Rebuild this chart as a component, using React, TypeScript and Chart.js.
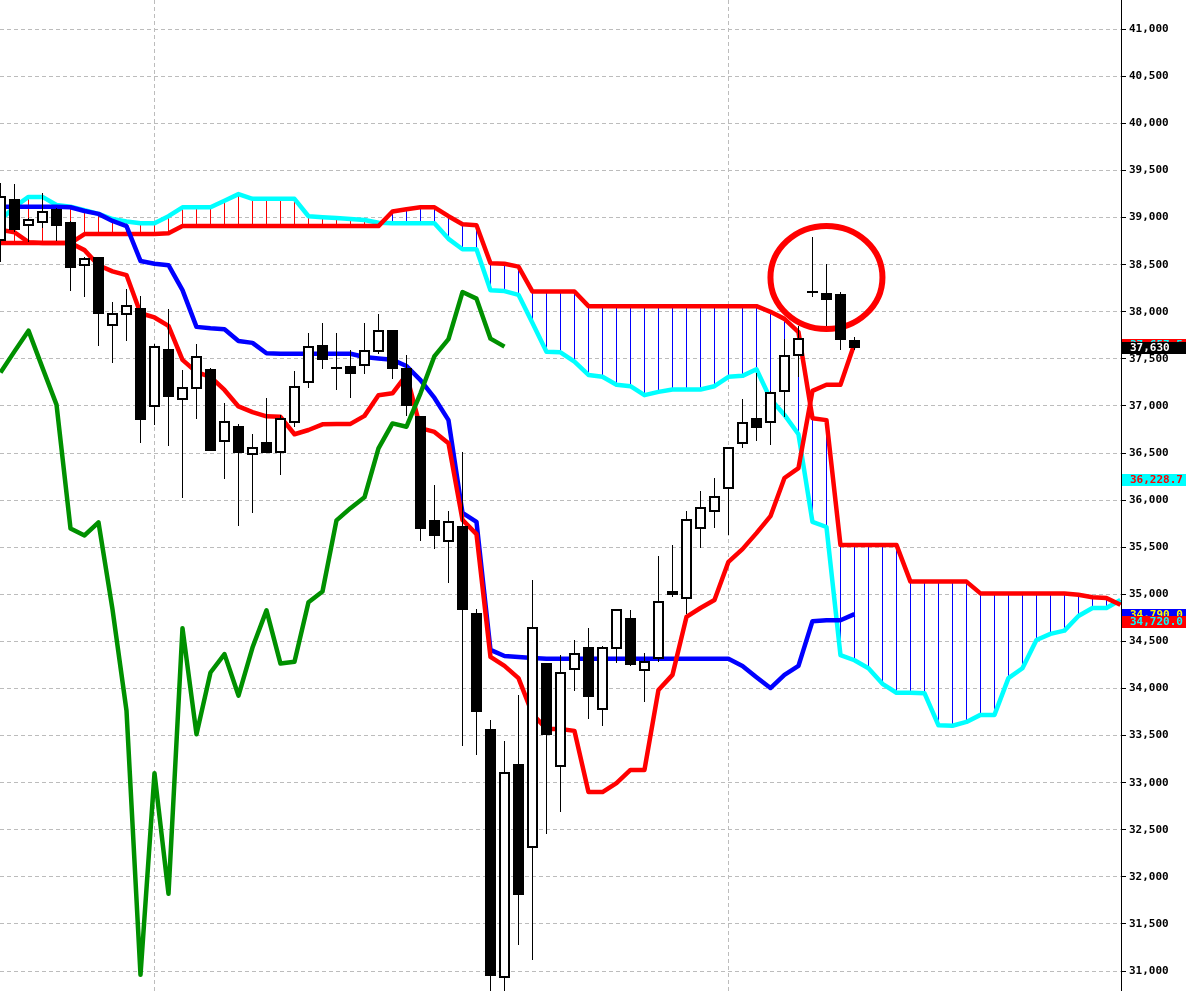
import React, { useEffect, useRef } from "react";
import { Chart, registerables } from "chart.js";

Chart.register(...registerables);

// ---------- DATA ----------
// Daily candles (index 0..61)
const opens = [
  38765, 39185, 38920, 38950, 39080, 38945, 38495, 38570, 37855, 37975,
  38025, 37005, 37595, 37070, 37190, 37380, 36625, 36775, 36490, 36605,
  36515, 36835, 37250, 37635, 37405, 37410, 37430, 37580, 37795, 37390,
  36885, 35780, 35565, 35710, 34790, 33560, 30940, 33185, 32315, 34260,
  33175, 34205, 34430, 33780, 34435, 34740, 34195, 34320, 35000, 34960,
  35700, 35885, 36125, 36605, 36860, 36835, 37160, 37545, 38210, 38190,
  38175, 37690,
];
const highs = [
  39370, 39355, 39000, 39265, 39100, 38965, 38580, 38580, 38105, 38240,
  38170, 37660, 38025, 37380, 37660, 37405, 37030, 36805, 36700, 37085,
  36905, 37370, 37780, 37880, 37780, 37595, 37880, 37975, 37805, 37540,
  36895, 36160, 35885, 36510, 34845, 33665, 33445, 33930, 35150, 34275,
  34355, 34515, 34640, 34450, 34845, 34835, 34375, 35405, 35525, 35885,
  36095, 36240, 36565, 37075, 37345, 37160, 37710, 37850, 38790, 38510,
  38210, 37730,
];
const lows = [
  38530, 38845, 38745, 38890, 38755, 38225, 38160, 37640, 37455, 37695,
  36610, 36800, 36580, 36025, 36860, 36520, 36225, 35730, 35860, 36500,
  36270, 36780, 37190, 37390, 37165, 37090, 37335, 37550, 37285, 36895,
  35570, 35480, 35125, 33390, 33295, 30750, 30780, 31280, 31115, 32460,
  32690, 33975, 33680, 33605, 34275, 34240, 33860, 34285, 34975, 34790,
  35490, 35705, 35625, 36550, 36630, 36590, 36885, 37310, 38155, 37850,
  37595, 37595,
];
const closes = [
  39220, 38880, 38975, 39065, 38925, 38480, 38560, 37990, 37975, 38060,
  36860, 37625, 37110, 37190, 37515, 36530, 36825, 36515, 36550, 36510,
  36860, 37200, 37625, 37500, 37405, 37355, 37580, 37800, 37405, 37015,
  35700, 35625, 35765, 34840, 33765, 30960, 33100, 31820, 34640, 33515,
  34170, 34365, 33925, 34435, 34830, 34265, 34285, 34915, 35030, 35785,
  35915, 36030, 36550, 36815, 36780, 37135, 37530, 37710, 38210, 38140,
  37715, 37630,
];

// Conversion line (red) and base line (blue), index 0..61
const tenkan = [
  38870, 38845, 38740, 38730, 38730, 38730, 38655, 38495, 38430, 38390,
  37985, 37940, 37850, 37490, 37360, 37310, 37170, 36995, 36935, 36890,
  36885, 36700, 36745, 36805, 36810, 36810, 36895, 37115, 37135, 37330,
  36765, 36725, 36605, 35790, 35640, 34335, 34240, 34110, 33730, 33570,
  33570, 33550, 32900, 32900, 32995, 33135, 33135, 33985, 34145, 34760,
  34855, 34940, 35345, 35480, 35650, 35830, 36235, 36340, 37160, 37225,
  37225, 37660,
];
const kijun = [
  39115, 39115, 39115, 39115, 39115, 39110, 39070, 39040, 38965, 38910,
  38540, 38510, 38495, 38230, 37840, 37825, 37815, 37690, 37670, 37560,
  37555, 37555, 37555, 37555, 37555, 37555, 37520, 37505, 37490, 37425,
  37275, 37085, 36850, 35865, 35770, 34410, 34345, 34335, 34325, 34315,
  34315, 34315, 34315, 34315, 34315, 34315, 34315, 34315, 34315, 34315,
  34315, 34315, 34315, 34240, 34120, 34005, 34145, 34240, 34715, 34725,
  34725, 34790,
];

// Leading spans (cloud), index 0..80
const senkouA = [
  38975, 39115, 39220, 39220, 39135, 39115, 39080, 39040, 38985, 38960,
  38940, 38940, 39015, 39110, 39110, 39110, 39180, 39250, 39200, 39200,
  39200, 39200, 39015, 39005, 38995, 38985, 38975, 38945, 38940, 38940,
  38940, 38940, 38775, 38665, 38665, 38230, 38220, 38180, 37880, 37575,
  37570, 37470, 37330, 37310, 37225, 37210, 37115, 37150, 37175, 37175,
  37175, 37210, 37310, 37320, 37390, 37075, 36905, 36700, 35770, 35715,
  34355, 34300, 34215, 34050, 33955, 33955, 33950, 33610, 33605, 33645,
  33720, 33720, 34110, 34215, 34515, 34580, 34615, 34770, 34855, 34855,
  34940,
];
const senkouB = [
  38730, 38730, 38730, 38730, 38730, 38730, 38825, 38825, 38825, 38825,
  38825, 38825, 38835, 38910, 38910, 38910, 38910, 38910, 38910, 38910,
  38910, 38910, 38910, 38910, 38910, 38910, 38910, 38910, 39065, 39090,
  39110, 39110, 39015, 38930, 38920, 38515, 38510, 38480, 38215, 38215,
  38215, 38215, 38060, 38060, 38060, 38060, 38060, 38060, 38060, 38060,
  38060, 38060, 38060, 38060, 38060, 38000, 37925, 37785, 36870, 36850,
  35525, 35525, 35525, 35525, 35525, 35135, 35135, 35135, 35135, 35135,
  35010, 35010, 35010, 35010, 35010, 35010, 35010, 34995, 34970, 34960,
  34890,
];

// Lagging span: closes shifted back by this many bars
const CHIKOU_SHIFT = 25;

// Axis
const yTicks = [
  31000, 31500, 32000, 32500, 33000, 33500, 34000, 34500, 35000, 35500,
  36000, 36500, 37000, 37500, 38000, 38500, 39000, 39500, 40000, 40500, 41000,
];
const vGridIndices = [11, 52];

// Price tags on the axis
const tagValues = [36228.7, 34790, 34720, 37657.5, 37630];
const tagTexts = ["36,228.7", "34,790.0", "34,720.0", "37,657.5", "37,630"];
const tagBg = ["#00ffff", "#0000ff", "#ff0000", "#ff0000", "#000000"];
const tagFg = ["#ff0000", "#ffff00", "#00ffff", "#00ffff", "#ffffff"];

// Hand-drawn mark (ellipse) around the recent candles
const markIndex = 59;
const markPrice = 38365;

// ---------- STYLE ----------
const W = 1186;
const H = 991;
const AXIS_W = 65;
const GRID = "#bcbcbc";
const FONT = "'DejaVu Sans Mono', monospace";

export default function App() {
  const canvasRef = useRef<HTMLCanvasElement | null>(null);

  useEffect(() => {
    const canvas = canvasRef.current;
    if (!canvas) return;

    const pts = (arr: number[]) => arr.map((v, i) => ({ x: i, y: v }));
    const chikou = closes.slice(CHIKOU_SHIFT);

    const plugin = {
      id: "ichimokuExtras",
      beforeDatasetsDraw(chart: any) {
        const { ctx, chartArea: a } = chart;
        const xs = chart.scales.x;
        const ys = chart.scales.y;
        ctx.save();
        ctx.beginPath();
        ctx.rect(a.left, a.top, a.right - a.left, a.bottom - a.top);
        ctx.clip();
        // vertical dashed grid
        ctx.strokeStyle = GRID;
        ctx.lineWidth = 1;
        ctx.setLineDash([4, 3]);
        for (const gi of vGridIndices) {
          const px = Math.floor(xs.getPixelForValue(gi)) + 0.5;
          ctx.beginPath();
          ctx.moveTo(px, a.top);
          ctx.lineTo(px, a.bottom);
          ctx.stroke();
        }
        ctx.setLineDash([]);
        // cloud hatching
        for (let i = 0; i < senkouA.length; i++) {
          const px = Math.floor(xs.getPixelForValue(i)) + 0.5;
          const ya = ys.getPixelForValue(senkouA[i]);
          const yb = ys.getPixelForValue(senkouB[i]);
          ctx.strokeStyle = senkouA[i] > senkouB[i] ? "#ff0000" : "#0000ff";
          ctx.beginPath();
          ctx.moveTo(px, ya);
          ctx.lineTo(px, yb);
          ctx.stroke();
        }
        ctx.restore();
      },
      afterDatasetsDraw(chart: any) {
        const { ctx, chartArea: a } = chart;
        const xs = chart.scales.x;
        const ys = chart.scales.y;
        ctx.save();
        ctx.beginPath();
        ctx.rect(a.left, a.top, a.right - a.left, a.bottom - a.top);
        ctx.clip();
        // ellipse mark
        ctx.strokeStyle = "#ff0000";
        ctx.lineWidth = 6;
        ctx.beginPath();
        ctx.ellipse(
          xs.getPixelForValue(markIndex),
          ys.getPixelForValue(markPrice),
          56, 51.5, 0, 0, Math.PI * 2
        );
        ctx.stroke();
        // candles
        for (let i = 0; i < opens.length; i++) {
          const xc = Math.floor(xs.getPixelForValue(i));
          const wx = xc + 0.5;
          const left = xc - 4;
          const yh = Math.round(ys.getPixelForValue(highs[i]));
          const yl = Math.round(ys.getPixelForValue(lows[i]));
          const o = opens[i];
          const c = closes[i];
          ctx.strokeStyle = "#000";
          ctx.lineWidth = 1;
          ctx.beginPath();
          ctx.moveTo(wx, yh);
          ctx.lineTo(wx, yl);
          ctx.stroke();
          const top = Math.round(ys.getPixelForValue(Math.max(o, c)));
          const bot = Math.round(ys.getPixelForValue(Math.min(o, c)));
          if (bot - top < 2) {
            ctx.fillStyle = "#000";
            ctx.fillRect(left - 1, top - 1, 11, 2);
          } else if (c > o) {
            ctx.fillStyle = "#fff";
            ctx.fillRect(left, top, 9, bot - top);
            ctx.lineWidth = 2;
            ctx.strokeRect(left, top, 9, bot - top);
          } else {
            ctx.fillStyle = "#000";
            ctx.fillRect(left - 1, top - 1, 11, bot - top + 2);
          }
        }
        ctx.restore();
      },
      afterDraw(chart: any) {
        const { ctx, chartArea: a } = chart;
        const ys = chart.scales.y;
        ctx.save();
        ctx.font = `bold 11px ${FONT}`;
        ctx.textBaseline = "middle";
        ctx.textAlign = "left";
        for (let k = 0; k < tagValues.length; k++) {
          const py = ys.getPixelForValue(tagValues[k]);
          const top = Math.round(py - 5);
          ctx.fillStyle = tagBg[k];
          ctx.fillRect(a.right + 1, top, W - a.right, 12);
          ctx.fillStyle = tagFg[k];
          ctx.fillText(tagTexts[k], a.right + 9, top + 6.5);
        }
        ctx.restore();
      },
    };

    const chart = new Chart(canvas, {
      type: "line",
      data: {
        datasets: [
          { label: "Chikou", data: pts(chikou), borderColor: "#009000", order: 0 },
          { label: "Tenkan", data: pts(tenkan), borderColor: "#ff0000", order: 1 },
          { label: "Kijun", data: pts(kijun), borderColor: "#0000ff", order: 2 },
          { label: "Senkou B", data: pts(senkouB), borderColor: "#ff0000", order: 3 },
          { label: "Senkou A", data: pts(senkouA), borderColor: "#00ffff", order: 4 },
        ] as any,
      },
      options: {
        responsive: false,
        animation: false,
        devicePixelRatio: 1,
        layout: { padding: 0 },
        elements: {
          point: { radius: 0, hoverRadius: 0 },
          line: { borderWidth: 4.5, tension: 0, fill: false, borderJoinStyle: "round" },
        },
        plugins: {
          legend: { display: false },
          tooltip: { enabled: false },
        },
        events: [],
        scales: {
          x: {
            type: "linear",
            min: -0.036,
            max: 80.04,
            display: false,
          },
          y: {
            type: "linear",
            position: "right",
            min: 30788,
            max: 41311,
            afterBuildTicks: (s: any) => {
              s.ticks = yTicks.map((v) => ({ value: v }));
            },
            afterFit: (s: any) => {
              s.width = AXIS_W;
              s.paddingTop = 0;
              s.paddingBottom = 0;
            },
            grid: {
              color: GRID,
              lineWidth: 1,
              drawTicks: true,
              tickLength: 5,
              tickColor: "#000",
            },
            border: { display: true, color: "#000", width: 1, dash: [4, 3] },
            ticks: {
              color: "#000",
              padding: 3,
              font: { family: FONT, size: 11, weight: "bold" },
              callback: (v: any) => Number(v).toLocaleString("en-US"),
            },
          },
        },
      } as any,
      plugins: [plugin],
    });

    return () => chart.destroy();
  }, []);

  return (
    <div style={{ position: "fixed", left: 0, top: 0, width: W, height: H, background: "#fff" }}>
      <canvas ref={canvasRef} width={W} height={H} style={{ display: "block" }} />
    </div>
  );
}
